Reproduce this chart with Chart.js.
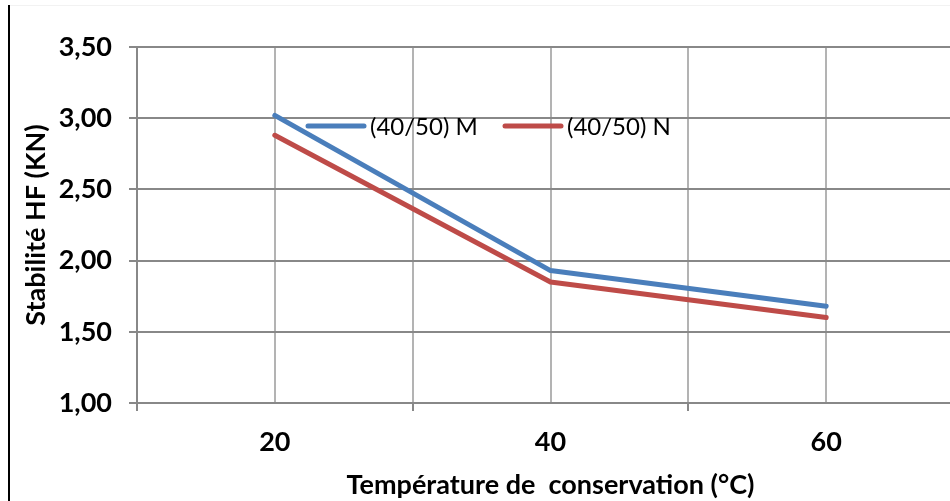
<!DOCTYPE html>
<html>
<head>
<meta charset="utf-8">
<script src="https://cdn.jsdelivr.net/npm/chart.js@4.4.0/dist/chart.umd.min.js"></script>
<style>
  html, body { margin: 0; padding: 0; background: #fff; overflow: hidden; }
  #wrap { position: relative; width: 979px; height: 501px; }
  #chart { display: block; }
  #frameLeft { position: absolute; left: 8px; top: 5px; width: 2px; height: 496px; background: #000; }
  #frameTop { position: absolute; left: 10px; top: 5px; width: 940px; height: 1px; background: #f2f2f2; }
</style>
</head>
<body>
<div id="wrap">
  <canvas id="chart" width="979" height="501"></canvas>
  <div id="frameLeft"></div>
  <div id="frameTop"></div>
</div>
<script>
// Données
const temperatures = [20, 40, 60];
const stabiliteM = [3.02, 1.93, 1.68];
const stabiliteN = [2.88, 1.85, 1.60];
const seriesLabels = ['(40/50) M', '(40/50) N'];
const seriesColors = ['#4a7ebb', '#be4b48'];

const FONT = 'Lato, "Liberation Sans", sans-serif';

// Légende dessinée à l'intérieur de la zone du graphique (comme dans Excel)
const legendStart = [308, 505];
const legendY = 126;

const inlineLegend = {
  id: 'inlineLegend',
  afterDraw(chart) {
    const ctx = chart.ctx;
    ctx.save();
    chart.data.datasets.forEach((ds, i) => {
      const x = legendStart[i];
      ctx.strokeStyle = ds.borderColor;
      ctx.lineWidth = 5;
      ctx.lineCap = 'round';
      ctx.beginPath();
      ctx.moveTo(x, legendY);
      ctx.lineTo(x + 56, legendY);
      ctx.stroke();
      ctx.fillStyle = '#000';
      ctx.font = '24px ' + FONT;
      ctx.textBaseline = 'middle';
      ctx.fillText(ds.label, x + 62, legendY + 1);
    });
    ctx.restore();
  }
};

function toPoints(values) {
  return temperatures.map((t, i) => ({ x: t, y: values[i] }));
}

new Chart(document.getElementById('chart'), {
  type: 'line',
  data: {
    datasets: [
      { label: seriesLabels[0], data: toPoints(stabiliteM), borderColor: seriesColors[0] },
      { label: seriesLabels[1], data: toPoints(stabiliteN), borderColor: seriesColors[1] }
    ]
  },
  options: {
    responsive: false,
    animation: false,
    devicePixelRatio: 1,
    layout: { padding: { top: 47, left: 0, right: 0, bottom: 0 } },
    elements: {
      line: { borderWidth: 5, tension: 0, borderCapStyle: 'round', borderJoinStyle: 'round' },
      point: { radius: 0, hoverRadius: 0 }
    },
    plugins: { legend: { display: false }, tooltip: { enabled: false } },
    scales: {
      x: {
        type: 'linear',
        min: 10,
        max: 70,
        afterFit(scale) { scale.height = 98; },
        ticks: {
          stepSize: 10,
          autoSkip: false,
          maxRotation: 0,
          padding: 15,
          color: '#000',
          font: { family: FONT, size: 27, weight: 'bold' },
          callback: v => temperatures.includes(v) ? String(v) : ''
        },
        grid: {
          color: '#b3b3b3',
          lineWidth: 2,
          tickLength: 8,
          tickColor: c => (c.tick && temperatures.includes(c.tick.value)) ? 'rgba(0,0,0,0)' : '#888'
        },
        border: { display: true, color: '#888', width: 2 },
        title: {
          display: true,
          text: 'Température de  conservation (°C)',
          color: '#000',
          font: { family: FONT, size: 27, weight: 'bold' },
          padding: { top: 0, bottom: 0 }
        }
      },
      y: {
        min: 1,
        max: 3.5,
        afterFit(scale) { scale.width = 137; },
        ticks: {
          stepSize: 0.5,
          padding: 17,
          color: '#000',
          font: { family: FONT, size: 27, weight: 'bold' },
          callback: v => v.toFixed(2).replace('.', ',')
        },
        grid: { color: '#888', lineWidth: 2, tickLength: 8, tickColor: '#888' },
        border: { display: true, color: '#888', width: 2 },
        title: {
          display: true,
          text: 'Stabilité HF (KN)',
          color: '#000',
          font: { family: FONT, size: 27, weight: 'bold' },
          padding: { top: 20, bottom: 0 }
        }
      }
    }
  },
  plugins: [inlineLegend]
});
</script>
</body>
</html>
